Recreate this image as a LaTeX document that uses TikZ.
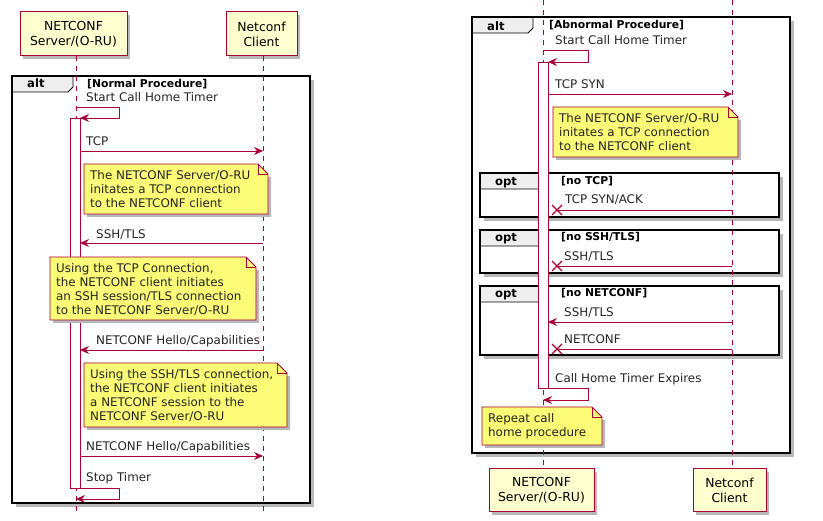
\documentclass[tikz,border=0pt]{standalone}
\usepackage{fontspec}
\setmainfont{DejaVu Sans}
\usetikzlibrary{arrows.meta,shadows,calc}
\definecolor{crim}{HTML}{A80036}
\definecolor{partfill}{HTML}{FEFECE}
\definecolor{notefill}{HTML}{FBFB77}
\definecolor{tabfill}{HTML}{EEEEEE}
\definecolor{shadowc}{HTML}{B8B8B8}
\newcommand{\notebox}[6]{%
  \fill[shadowc] (#2+3,#3+3) -- (#4+3,#3+13) -- (#4+3,#5+3) -- (#2+3,#5+3) -- cycle;
  \filldraw[notebg] (#2,#3) -- (#4-10,#3) -- (#4,#3+10) -- (#4,#5) -- (#2,#5) -- cycle;
  \draw[notebg, fill=none] (#4-10,#3) -- (#4-10,#3+10) -- (#4,#3+10);
  \node[notetext] (#1) at (#2+6,#3+6) {#6};%
}
\newcommand{\grpframe}[5]{% x1 y1 x2 y2 tabx
  \draw[shadowc, line width=2.5pt] (#1+4,#4+2.5) -- (#3+2.5,#4+2.5) -- (#3+2.5,#2+4);
  \filldraw[fill=tabfill, draw=black, line width=0.8pt] (#1,#2) -- (#5,#2) -- (#5,#2+11) -- (#5-5,#2+16) -- (#1,#2+16) -- cycle;
  \draw[black, line width=1.6pt] (#1,#2) rectangle (#3,#4);
}
\begin{document}
\begin{tikzpicture}[x=1pt,y=-1pt,
  msgfont/.style={font=\fontsize{11.9}{14}\selectfont},
  pbox/.style={draw=crim, fill=partfill, line width=1pt, align=center, inner sep=0pt,
     font=\fontsize{12.4}{15}\selectfont, drop shadow={shadow xshift=3pt, shadow yshift=-3pt, fill=shadowc, opacity=1}},
  lifeline/.style={draw=crim, line width=0.9pt, dash pattern=on 5pt off 5pt},
  actbar/.style={draw=crim, fill=white, line width=0.9pt},
  msg/.style={draw=crim, line width=0.9pt, -{Stealth[length=9pt,width=8pt,inset=3pt]}},
  lost/.style={draw=crim, line width=0.9pt},
  cross/.style={draw=crim, line width=1.4pt},
  lbl/.style={msgfont, anchor=base west, inner sep=0pt, text=black!85},
  notebg/.style={fill=notefill, draw=crim, line width=0.8pt},
  notetext/.style={msgfont, anchor=north west, align=left, inner sep=0pt, text=black!85},
  grplbl/.style={font=\fontsize{11.6}{13}\bfseries\selectfont, anchor=base west, inner sep=0pt},
  condlbl/.style={font=\fontsize{10.8}{12}\bfseries\selectfont, anchor=base west, inner sep=0pt}
]
\useasboundingbox (0,0) rectangle (823,521);
\fill[white] (0,0) rectangle (823,521);

% ================= LEFT DIAGRAM =================
\grpframe{12}{76}{310}{503}{73}
\node[grplbl] (altL) at (27,88) {alt};
\node[condlbl] (condL) at (87,88) {[Normal Procedure]};

\node[pbox, minimum width=107pt, minimum height=44pt] (srvL) at (73.5,34) {NETCONF\\Server/(O-RU)};
\node[pbox, minimum width=71pt, minimum height=44pt] (cliL) at (261.5,34) {Netconf\\Client};
\coordinate (srvLend) at (76,515);
\coordinate (cliLend) at (263,515);
\draw[lifeline] (srvL.south -| srvLend) -- (srvLend);
\draw[lifeline] (cliL.south -| cliLend) -- (cliLend);

\node[actbar, minimum width=10pt, minimum height=370pt, inner sep=0pt] (actL) at (75,303) {};

% self message start
\coordinate (sL1) at (76,107);
\coordinate (sL2) at (119,107);
\coordinate (sL3) at (119,118);
\coordinate (sL4) at (80,118);
\node[lbl] (tStartL) at (86,102) {Start Call Home Timer};
\draw[msg] (sL1) -- (sL2) -- (sL3) -- (sL4);

% TCP
\coordinate (aL1) at (80,151);
\coordinate (cL1) at (263,151);
\node[lbl] (tTCP) at (86,146) {TCP};
\draw[msg] (aL1) -- (cL1);

\notebox{n1}{84}{164}{268}{214}{The NETCONF Server/O-RU\\initates a TCP connection\\to the NETCONF client}

% SSH/TLS
\coordinate (aL2) at (80,243);
\coordinate (cL2) at (263,243);
\node[lbl] (tSSH) at (96,239) {SSH/TLS};
\draw[msg] (cL2) -- (aL2);

\notebox{n2}{50}{257}{256}{320}{Using the TCP Connection,\\the NETCONF client initiates\\an SSH session/TLS connection\\to the NETCONF Server/O-RU}

% Hello 1
\coordinate (aL3) at (80,350);
\coordinate (cL3) at (263,350);
\node[lbl] (tHello1) at (96,345) {NETCONF Hello/Capabilities};
\draw[msg] (cL3) -- (aL3);

\notebox{n3}{84}{363}{287}{427}{Using the SSH/TLS connection,\\the NETCONF client initiates\\a NETCONF session to the\\NETCONF Server/O-RU}

% Hello 2
\coordinate (aL4) at (80,456);
\coordinate (cL4) at (263,456);
\node[lbl] (tHello2) at (86,451) {NETCONF Hello/Capabilities};
\draw[msg] (aL4) -- (cL4);

% Stop timer
\coordinate (eL1) at (80,488);
\coordinate (eL2) at (119,488);
\coordinate (eL3) at (119,499);
\coordinate (eL4) at (76,499);
\node[lbl] (tStop) at (86,482) {Stop Timer};
\draw[msg] (eL1) -- (eL2) -- (eL3) -- (eL4);

% ================= RIGHT DIAGRAM =================
\grpframe{472}{17}{790}{453}{533}
\node[grplbl] (altR) at (487,31) {alt};
\node[condlbl] (condR) at (549,29) {[Abnormal Procedure]};

\grpframe{480}{173}{779}{217}{547}
\node[grplbl] (opt1) at (495,186) {opt};
\node[condlbl] (c1) at (561,185) {[no TCP]};
\grpframe{480}{230}{779}{273}{547}
\node[grplbl] (opt2) at (495,242) {opt};
\node[condlbl] (c2) at (561,241) {[no SSH/TLS]};
\grpframe{480}{286}{779}{355}{547}
\node[grplbl] (opt3) at (495,298) {opt};
\node[condlbl] (c3) at (561,297) {[no NETCONF]};

\node[pbox, minimum width=105pt, minimum height=43pt] (srvR) at (541.5,490.5) {NETCONF\\Server/(O-RU)};
\node[pbox, minimum width=73pt, minimum height=43pt] (cliR) at (729.5,490.5) {Netconf\\Client};
\coordinate (srvRtop) at (543,0);
\coordinate (cliRtop) at (732,0);
\draw[lifeline] (srvRtop) -- (srvR.north -| srvRtop);
\draw[lifeline] (cliRtop) -- (cliR.north -| cliRtop);

\node[actbar, minimum width=10pt, minimum height=326pt, inner sep=0pt] (actR) at (543,225) {};

% start timer
\coordinate (sR1) at (543,50);
\coordinate (sR2) at (588,50);
\coordinate (sR3) at (588,62);
\coordinate (sR4) at (548,62);
\node[lbl] (tStartR) at (555,45) {Start Call Home Timer};
\draw[msg] (sR1) -- (sR2) -- (sR3) -- (sR4);

% TCP SYN
\coordinate (aR1) at (548,94);
\coordinate (cR1) at (732,94);
\node[lbl] (tSYN) at (555,89) {TCP SYN};
\draw[msg] (aR1) -- (cR1);

\notebox{n4}{553}{107}{738}{157}{The NETCONF Server/O-RU\\initates a TCP connection\\to the NETCONF client}

% lost SYN/ACK
\coordinate (xR1) at (557,210);
\coordinate (cR2) at (732,210);
\node[lbl] (tSYNACK) at (565,204) {TCP SYN/ACK};
\draw[lost] (cR2) -- (xR1);
\draw[cross] ($(xR1)+(-5,-5)$) -- ($(xR1)+(5,5)$) ($(xR1)+(-5,5)$) -- ($(xR1)+(5,-5)$);

% lost SSH/TLS
\coordinate (xR2) at (557,266);
\coordinate (cR3) at (732,266);
\node[lbl] (tSSH2) at (564,261) {SSH/TLS};
\draw[lost] (cR3) -- (xR2);
\draw[cross] ($(xR2)+(-5,-5)$) -- ($(xR2)+(5,5)$) ($(xR2)+(-5,5)$) -- ($(xR2)+(5,-5)$);

% SSH/TLS
\coordinate (aR2) at (548,322);
\coordinate (cR4) at (732,322);
\node[lbl] (tSSH3) at (564,317) {SSH/TLS};
\draw[msg] (cR4) -- (aR2);

% lost NETCONF
\coordinate (xR3) at (557,349);
\coordinate (cR5) at (732,349);
\node[lbl] (tNC) at (564,344) {NETCONF};
\draw[lost] (cR5) -- (xR3);
\draw[cross] ($(xR3)+(-5,-5)$) -- ($(xR3)+(5,5)$) ($(xR3)+(-5,5)$) -- ($(xR3)+(5,-5)$);

% expires
\coordinate (eR1) at (548,388);
\coordinate (eR2) at (588,388);
\coordinate (eR3) at (588,400);
\coordinate (eR4) at (543,400);
\node[lbl] (tExp) at (555,383) {Call Home Timer Expires};
\draw[msg] (eR1) -- (eR2) -- (eR3) -- (eR4);

\notebox{n5}{482}{407}{602}{445}{Repeat call\\home procedure}
\end{tikzpicture}
\end{document}
